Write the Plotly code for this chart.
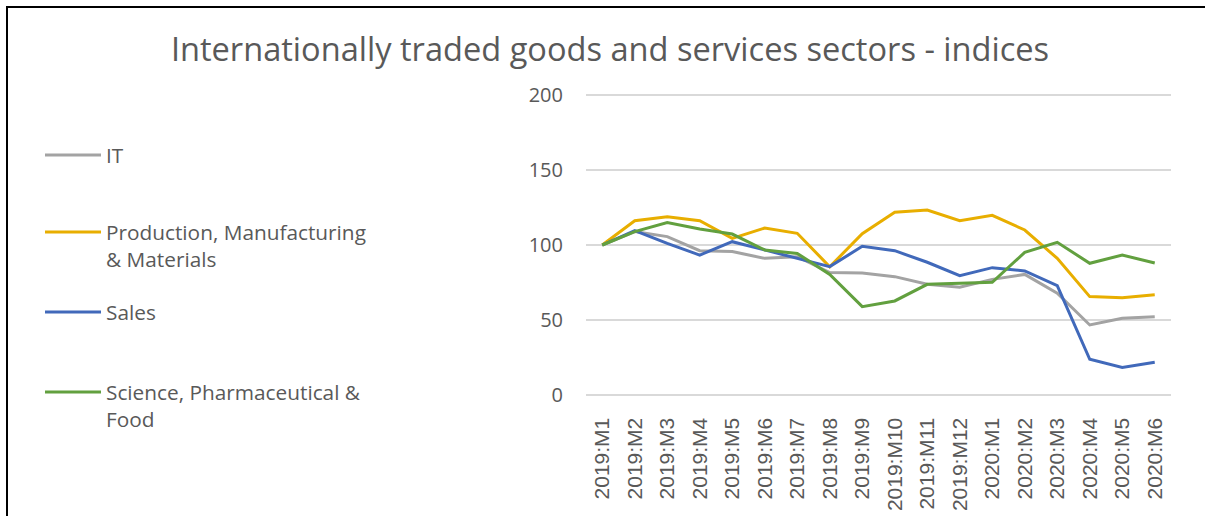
import plotly.graph_objects as go

months = ["2019:M1", "2019:M2", "2019:M3", "2019:M4", "2019:M5", "2019:M6",
          "2019:M7", "2019:M8", "2019:M9", "2019:M10", "2019:M11", "2019:M12",
          "2020:M1", "2020:M2", "2020:M3", "2020:M4", "2020:M5", "2020:M6"]

it_vals = [100, 109, 105.6, 96.2, 95.6, 91.1, 92.2, 81.6, 81.3, 78.9, 73.8, 71.8,
           77.1, 80.4, 67.8, 46.7, 51.1, 52.2]
prod_vals = [100, 116.2, 118.9, 116.2, 104.4, 111.3, 107.8, 85.5, 107.5, 121.8, 123.3, 116.2,
             119.8, 110, 91.1, 65.6, 64.9, 66.9]
sales_vals = [100, 109.6, 101.1, 93.3, 102.2, 96.7, 91.1, 85.6, 99.1, 96.2, 88.5, 79.6,
              84.9, 82.7, 72.9, 23.8, 18.4, 21.8]
sci_vals = [100, 108.9, 114.9, 110.7, 107.3, 96.7, 94.4, 80.4, 58.9, 62.7, 73.8, 74.2,
            75.1, 95.1, 101.8, 87.8, 93.3, 88]

series = [
    ("IT", it_vals, "#A3A3A3", "legend"),
    ("Production, Manufacturing<br>& Materials", prod_vals, "#E8AE00", "legend2"),
    ("Sales", sales_vals, "#4169BA", "legend3"),
    ("Science, Pharmaceutical &<br>Food", sci_vals, "#62A03F", "legend4"),
]

W, H = 1205, 516
fig = go.Figure()
for name, vals, color, lg in series:
    fig.add_trace(go.Scatter(x=months, y=vals, name=name, mode="lines",
                             line=dict(color=color, width=3), legend=lg))

legend_font = dict(family="Open Sans", size=20.8, color="#595959")
def leg(ypx):
    return dict(x=40 / W, y=1 - ypx / H, xanchor="left", yanchor="top",
                bgcolor="rgba(0,0,0,0)", font=legend_font, itemwidth=56,
                valign="top", traceorder="normal")

y0px, y200px = 395, 95
pad = 1.0
ppu = (y0px - y200px) / 200.0
dom_bot = 1 - (y0px + pad * ppu) / H
dom_top = 1 - (y200px - pad * ppu) / H

fig.update_layout(
    width=W, height=H,
    margin=dict(l=0, r=0, t=0, b=0),
    paper_bgcolor="white", plot_bgcolor="white",
    title=dict(text="Internationally traded goods and services sectors - indices",
               x=610 / W, xanchor="center", y=1 - 50 / H, yanchor="middle",
               font=dict(family="Open Sans", size=32.6, color="#595959")),
    xaxis=dict(domain=[586 / W, 1171 / W], type="category", range=[-0.5, 17.5],
               showgrid=False, showline=False, zeroline=False, ticks="",
               automargin=False, ticklabelstandoff=16,
               tickangle=-90, tickfont=dict(family="Liberation Sans", size=21, color="#595959")),
    yaxis=dict(domain=[dom_bot, dom_top], range=[-pad, 200 + pad], tickvals=[0, 50, 100, 150, 200],
               showgrid=True, gridcolor="#D9D9D9", gridwidth=1.5, automargin=False,
               zeroline=False, showline=False, ticks="", ticklabelstandoff=22,
               tickfont=dict(family="Open Sans", size=20, color="#595959")),
    legend=leg(135),
    legend2=leg(212),
    legend3=leg(292),
    legend4=leg(372),
    showlegend=True,
    shapes=[dict(type="path", xref="paper", yref="paper",
                 path=f"M {7/W} -0.1 L {7/W} {1-7/H} L {1.1} {1-7/H}",
                 line=dict(color="black", width=2))],
)

fig.write_html("out.html", config={"displayModeBar": False})
